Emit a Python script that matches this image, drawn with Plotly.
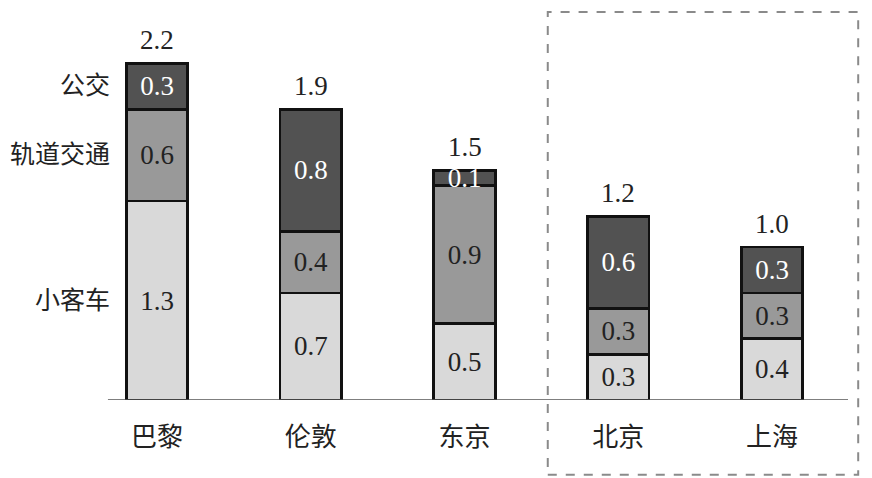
import plotly.graph_objects as go

cities = ["巴黎", "伦敦", "东京", "北京", "上海"]
car = [1.3, 0.7, 0.5, 0.3, 0.4]
rail = [0.6, 0.4, 0.9, 0.3, 0.3]
bus = [0.3, 0.8, 0.1, 0.6, 0.3]
totals = [2.2, 1.9, 1.5, 1.2, 1.0]
series_names = ["小客车", "轨道交通", "公交"]

colors = ["#d9d9d9", "#999999", "#525252"]
text_colors = ["#222222", "#222222", "#ffffff"]
num_font = "Liberation Serif, Times New Roman, serif"
cjk_font = "Noto Sans CJK SC, sans-serif"

fig = go.Figure()
for vals, name, col, tcol in zip([car, rail, bus], series_names, colors, text_colors):
    fig.add_trace(go.Bar(
        x=cities, y=vals, name=name,
        marker=dict(color=col, line=dict(color="#111111", width=2.8)),
        text=[f"{v:.1f}" for v in vals],
        textposition="inside", insidetextanchor="middle",
        constraintext="none",
        textfont=dict(family=num_font, size=27, color=tcol),
        width=0.40,
    ))

# totals above bars
for c, t in zip(cities, totals):
    fig.add_annotation(x=c, y=t, text=f"{t:.1f}", showarrow=False,
                       yanchor="bottom", yshift=6,
                       font=dict(family=num_font, size=27, color="#222222"))

# series labels beside first bar
base = 0
for vals, name in zip([car, rail, bus], series_names):
    center = base + vals[0] / 2
    base += vals[0]
    fig.add_annotation(x=-0.295, y=center, text=name, showarrow=False,
                       xanchor="right", yanchor="middle", yshift=3,
                       font=dict(family=cjk_font, size=25, color="#222222"))

# baseline
fig.add_shape(type="line", xref="x", yref="y", x0=-0.319, x1=4.494, y0=0, y1=0,
              line=dict(color="#555555", width=1.5))
# dashed highlight box
fig.add_shape(type="rect", xref="paper", yref="paper", x0=0.619, x1=0.975,
              y0=-0.191, y1=0.990, line=dict(color="#8a8a8a", width=2, dash="dash"),
              fillcolor="rgba(0,0,0,0)")

fig.update_layout(
    barmode="stack", width=872, height=478,
    margin=dict(l=0, r=0, t=0, b=86),
    plot_bgcolor="white", paper_bgcolor="white",
    showlegend=False,
)
fig.update_xaxes(range=[-0.969, 4.702], showline=False, showgrid=False, zeroline=False,
                 ticks="", ticklabelstandoff=19,
                 tickfont=dict(family=cjk_font, size=26, color="#222222"))
fig.update_yaxes(range=[0, 2.562], visible=False)

fig.write_html("out.html")
